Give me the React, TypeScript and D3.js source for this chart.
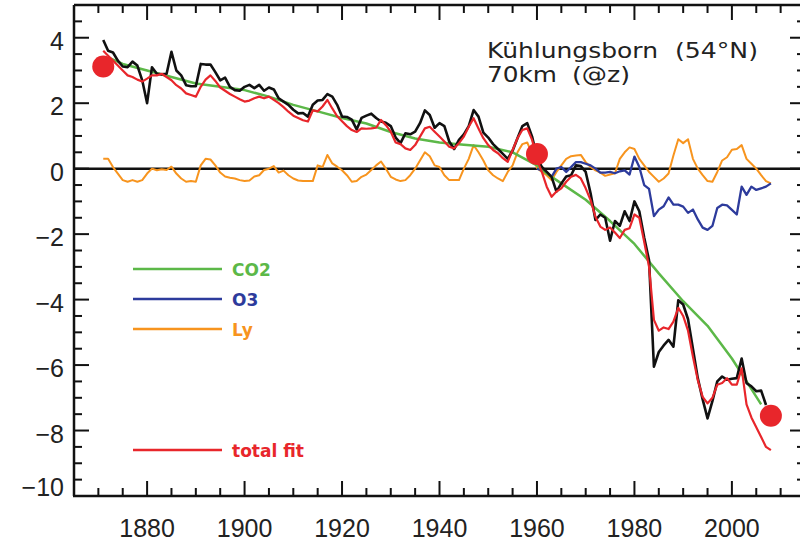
import React from "react";
import * as d3 from "d3";

// ---------- data ----------
const obsStart = 1871;
const observed = [
  3.93, 3.6, 3.55, 3.3, 3.12, 3.1, 3.27, 3.15, 2.7, 2.0,
  3.1, 2.9, 2.88, 2.9, 3.57, 3.0, 2.85, 2.55, 2.52, 2.52,
  3.2, 3.18, 3.18, 2.95, 2.7, 2.78, 2.5, 2.4, 2.38, 2.5,
  2.56, 2.46, 2.56, 2.38, 2.48, 2.42, 2.15, 2.05, 1.95, 1.8,
  1.69, 1.7, 1.59, 1.95, 2.08, 2.1, 2.28, 2.2, 1.95, 1.59,
  1.58, 1.5, 1.2, 1.55, 1.62, 1.68, 1.55, 1.44, 1.4, 1.3,
  0.95, 0.78, 1.08, 1.05, 1.13, 1.39, 1.78, 1.64, 1.25, 1.39,
  1.3, 0.83, 0.6, 0.88, 1.05, 1.3, 1.79, 1.59, 1.1, 0.95,
  0.75, 0.6, 0.45, 0.3, 0.55, 0.93, 1.3, 1.39, 0.98, 0.35,
  0.05, -0.1, -0.25, -0.7, -0.45, -0.24, -0.2, 0.1, 0.08, -0.1,
  -0.75, -1.57, -1.4, -1.5, -2.2, -1.6, -1.75, -1.3, -1.6, -1.0,
  -1.3, -2.1, -2.8, -6.05, -5.6, -5.4, -5.23, -5.44, -4.02, -4.15,
  -4.6, -5.5, -6.4, -7.05, -7.63, -7.1, -6.5, -6.35, -6.45, -6.42,
  -6.4, -5.8, -6.55, -6.65, -6.8, -6.78, -7.22,
];

const fitStart = 1871;
const totalFit = [
  3.6, 3.45, 3.3, 3.15, 3.0, 2.85, 2.8, 2.72, 2.66, 2.75,
  2.85, 2.85, 2.9, 2.8, 2.7, 2.55, 2.45, 2.3, 2.25, 2.2,
  2.5, 2.72, 2.85, 2.68, 2.48, 2.38, 2.28, 2.2, 2.12, 2.05,
  2.08, 2.15, 2.2, 2.15, 2.2, 2.1, 2.0, 1.88, 1.74, 1.62,
  1.55, 1.48, 1.44, 1.78, 1.75, 1.9, 2.1, 1.84, 1.6, 1.45,
  1.3, 1.18, 1.12, 1.23, 1.22, 1.23, 1.25, 1.49, 1.33, 1.13,
  0.8, 0.75, 0.62, 0.57, 0.72, 0.98, 1.23, 1.28, 1.13, 0.98,
  0.83, 0.67, 0.62, 0.78, 0.98, 1.28, 1.54, 1.23, 0.93, 0.72,
  0.57, 0.47, 0.32, 0.21, 0.57, 0.93, 1.18, 1.23, 0.88, 0.27,
  -0.1, -0.55, -0.86, -0.7, -0.6, -0.4, -0.25, -0.19, -0.3, -0.6,
  -0.96, -1.47, -1.77, -1.87, -1.8, -1.95, -2.12, -1.87, -1.82, -1.4,
  -1.5, -2.23, -3.0, -4.62, -4.95, -4.85, -4.9, -4.67, -4.25, -4.5,
  -4.95, -5.74, -6.46, -6.97, -7.17, -7.0, -6.6, -6.55, -6.4, -6.6,
  -6.6, -6.1, -7.2, -7.6, -7.9, -8.2, -8.5, -8.6,
];

const co2Years = [1872, 1875, 1880, 1885, 1890, 1895, 1900, 1905, 1910, 1915, 1920, 1925, 1930, 1935, 1940, 1945, 1950, 1955, 1960, 1962, 1965, 1970, 1975, 1980, 1985, 1990, 1995, 2000, 2003, 2006];
const co2 = [3.4, 3.2, 3.0, 2.8, 2.6, 2.5, 2.4, 2.2, 1.95, 1.75, 1.55, 1.38, 1.12, 0.92, 0.8, 0.73, 0.67, 0.5, 0.1, -0.15, -0.45, -0.95, -1.6, -2.3, -3.2, -4.05, -4.8, -5.8, -6.5, -7.2];

const o3Start = 1960;
const o3 = [
  0.0, -0.05, -0.1, -0.25, 0.0, 0.05, -0.1, 0.05, 0.2, 0.2,
  0.15, 0.1, 0.0, -0.12, -0.12, -0.1, -0.14, -0.08, -0.05, -0.18,
  0.37, 0.05, -0.5, -0.62, -1.45, -1.25, -1.15, -0.88, -1.1, -1.1,
  -1.16, -1.35, -1.25, -1.55, -1.8, -1.87, -1.75, -1.2, -1.1, -1.12,
  -1.26, -1.4, -0.55, -0.8, -0.55, -0.65, -0.6, -0.55, -0.45,
];

const lyStart = 1871;
const ly = [
  0.3, 0.3, 0.05, -0.15, -0.35, -0.4, -0.35, -0.4, -0.35, -0.15,
  0.0, -0.05, -0.02, -0.04, 0.06, -0.15, -0.3, -0.4, -0.38, -0.4,
  0.1, 0.3, 0.28, 0.1, -0.12, -0.24, -0.28, -0.3, -0.35, -0.38,
  -0.36, -0.24, -0.2, -0.04, 0.0, 0.08, -0.12, -0.06, -0.2, -0.3,
  -0.36, -0.38, -0.38, -0.38, 0.1, 0.05, 0.42, 0.16, 0.06, -0.05,
  -0.2, -0.4, -0.38, -0.25, -0.18, -0.04, 0.1, 0.22, 0.0, -0.25,
  -0.33, -0.38, -0.35, -0.2, 0.0, 0.25, 0.5, 0.38, 0.1, 0.05,
  -0.2, -0.35, -0.35, -0.35, 0.0, 0.3, 0.72, 0.5, 0.25, -0.05,
  -0.2, -0.3, -0.38, -0.1, 0.1, 0.5, 0.75, 0.8, 0.45, 0.02,
  -0.1, -0.2, -0.35, -0.1, 0.1, 0.3, 0.38, 0.4, 0.42, 0.2,
  0.05, -0.05, -0.12, -0.22, -0.18, -0.14, 0.3, 0.5, 0.65, 0.6,
  0.3, 0.1, -0.1, -0.25, -0.4, -0.3, -0.15, 0.4, 0.9, 0.78,
  0.9, 0.3, 0.0, -0.2, -0.38, -0.4, -0.1, 0.25, 0.35, 0.58,
  0.6, 0.72, 0.3, 0.15, 0.0, -0.2, -0.38, -0.45,
];

const anchorYears = [1871, 1960, 2008];
const anchorValues = [3.12, 0.45, -7.55];

const xTicksMajor = [1880, 1900, 1920, 1940, 1960, 1980, 2000];
const yTicksMajor = [-10, -8, -6, -4, -2, 0, 2, 4];
const yTickLabels = ["−10", "−8", "−6", "−4", "−2", "0", "2", "4"];

const legendLabels = ["CO2", "O3", "Ly", "total fit"];

// ---------- styling ----------
const C_BLACK = "#111111";
const C_RED = "#e8262b";
const C_GREEN = "#5cb848";
const C_BLUE = "#2d3b9c";
const C_ORANGE = "#f7941e";

const W = 800;
const H = 546;

export default function App() {
  const x = d3.scaleLinear().domain([1865, 2015]).range([74, 805]);
  const y = d3.scaleLinear().domain([-10, 5]).range([496, 5]);

  const toPts = (start: number, vals: number[]) =>
    vals.map((v, i) => [start + i, v] as [number, number]);

  const line = d3
    .line<[number, number]>()
    .x((d) => x(d[0]))
    .y((d) => y(d[1]));

  const obsPts = toPts(obsStart, observed);
  const fitPts = toPts(fitStart, totalFit);
  const o3Pts = toPts(o3Start, o3);
  const lyPts = toPts(lyStart, ly);
  const co2Pts = co2Years.map((yr, i) => [yr, co2[i]] as [number, number]);

  const xMinor = d3.range(1865, 2016, 5).filter((v) => !xTicksMajor.includes(v));
  const yMinor = d3.range(-10, 5.01, 0.5).filter((v) => !yTicksMajor.includes(v));

  const x0 = x(1865);
  const x1 = x(2015);
  const yTop = y(5);
  const yBot = y(-10);
  const majLen = 15;
  const minLen = 8;
  const axisW = 2.5;

  const legendRows = [
    { label: legendLabels[0], color: C_GREEN, y: 269 },
    { label: legendLabels[1], color: C_BLUE, y: 299 },
    { label: legendLabels[2], color: C_ORANGE, y: 329 },
    { label: legendLabels[3], color: C_RED, y: 450 },
  ];

  return (
    <svg
      width={W}
      height={H}
      style={{ position: "absolute", left: 0, top: 0, background: "#fff" }}
      fontFamily="Liberation Sans, Arial, sans-serif"
    >
      <rect x={0} y={0} width={W} height={H} fill="#fff" />

      {/* zero line */}
      <line x1={x0} x2={x1} y1={y(0)} y2={y(0)} stroke={C_BLACK} strokeWidth={2.5} />

      {/* series */}
      <path d={line(lyPts) || ""} fill="none" stroke={C_ORANGE} strokeWidth={2} strokeLinejoin="round" />
      <path d={line(o3Pts) || ""} fill="none" stroke={C_BLUE} strokeWidth={2.3} strokeLinejoin="round" />
      <path d={line(co2Pts) || ""} fill="none" stroke={C_GREEN} strokeWidth={2.5} strokeLinejoin="round" />
      <path d={line(obsPts) || ""} fill="none" stroke={C_BLACK} strokeWidth={2.6} strokeLinejoin="round" />
      <path d={line(fitPts) || ""} fill="none" stroke={C_RED} strokeWidth={2.2} strokeLinejoin="round" />

      {/* anchor dots */}
      {anchorYears.map((yr, i) => (
        <circle key={yr} cx={x(yr)} cy={y(anchorValues[i])} r={11} fill={C_RED} />
      ))}

      {/* frame */}
      <line x1={x0} x2={x0} y1={yTop} y2={yBot} stroke={C_BLACK} strokeWidth={axisW} />
      <line x1={x1} x2={x1} y1={yTop} y2={yBot} stroke={C_BLACK} strokeWidth={axisW} />
      <line x1={x0} x2={x1} y1={yTop} y2={yTop} stroke={C_BLACK} strokeWidth={axisW} />
      <line x1={x0 - 1} x2={x1} y1={yBot} y2={yBot} stroke={C_BLACK} strokeWidth={axisW} />

      {/* x ticks */}
      {xTicksMajor.map((t) => (
        <g key={"xm" + t}>
          <line x1={x(t)} x2={x(t)} y1={yBot} y2={yBot - majLen} stroke={C_BLACK} strokeWidth={2} />
          <line x1={x(t)} x2={x(t)} y1={yTop} y2={yTop + majLen} stroke={C_BLACK} strokeWidth={2} />
          <text x={x(t)} y={537} textAnchor="middle" fontSize={25} fill="#222">
            {t}
          </text>
        </g>
      ))}
      {xMinor.map((t) => (
        <g key={"xn" + t}>
          <line x1={x(t)} x2={x(t)} y1={yBot} y2={yBot - minLen} stroke={C_BLACK} strokeWidth={2} />
          <line x1={x(t)} x2={x(t)} y1={yTop} y2={yTop + minLen} stroke={C_BLACK} strokeWidth={2} />
        </g>
      ))}

      {/* y ticks */}
      {yTicksMajor.map((t, i) => (
        <g key={"ym" + t}>
          <line x1={x0} x2={x0 + majLen} y1={y(t)} y2={y(t)} stroke={C_BLACK} strokeWidth={2} />
          <line x1={x1} x2={x1 - majLen} y1={y(t)} y2={y(t)} stroke={C_BLACK} strokeWidth={2} />
          <text
            x={64}
            y={Math.min(y(t) + 3, 487) + 9}
            textAnchor="end"
            fontSize={25}
            fill="#222"
          >
            {yTickLabels[i]}
          </text>
        </g>
      ))}
      {yMinor.map((t) => (
        <g key={"yn" + t}>
          <line x1={x0} x2={x0 + minLen} y1={y(t)} y2={y(t)} stroke={C_BLACK} strokeWidth={2} />
          <line x1={x1} x2={x1 - minLen} y1={y(t)} y2={y(t)} stroke={C_BLACK} strokeWidth={2} />
        </g>
      ))}

      {/* title */}
      <g fontFamily="DejaVu Sans, sans-serif" fill="#222" fontSize={22}>
        <text x={487} y={58} textLength={171} lengthAdjust="spacingAndGlyphs">Kühlungsborn</text>
        <text x={675} y={58} textLength={83} lengthAdjust="spacingAndGlyphs">(54°N)</text>
        <text x={487} y={82} textLength={70} lengthAdjust="spacingAndGlyphs">70km</text>
        <text x={572} y={82} textLength={58} lengthAdjust="spacingAndGlyphs">(@z)</text>
      </g>

      {/* legend */}
      {legendRows.map((r) => (
        <g key={r.label}>
          <line x1={133} x2={222} y1={r.y} y2={r.y} stroke={r.color} strokeWidth={2.5} />
          <text
            x={232}
            y={r.y + 6.5}
            fill={r.color}
            fontSize={17}
            fontWeight={600}
            fontFamily="DejaVu Sans, sans-serif"
          >
            {r.label}
          </text>
        </g>
      ))}
    </svg>
  );
}
